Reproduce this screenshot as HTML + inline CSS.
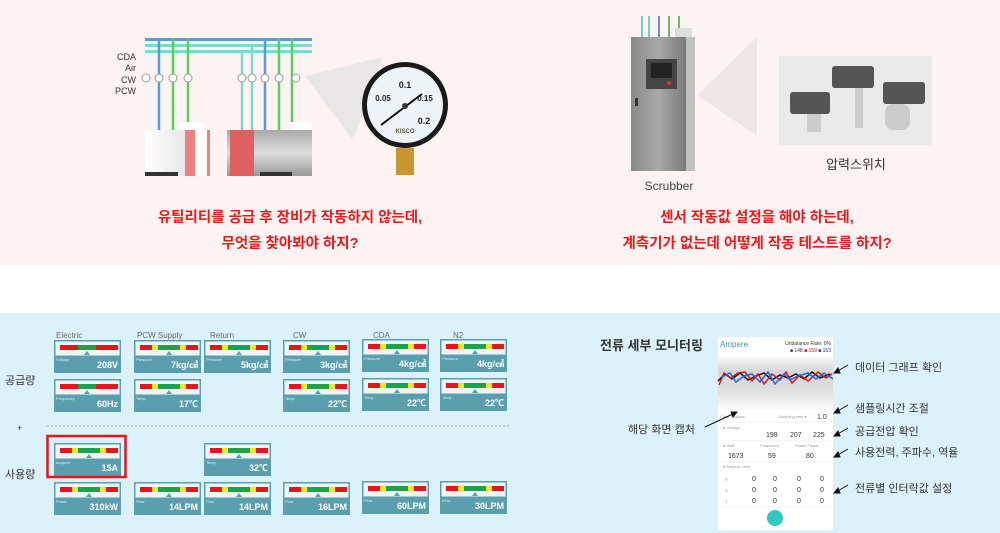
<!DOCTYPE html>
<html><head><meta charset="utf-8"><style>
html,body{margin:0;padding:0;width:1000px;height:533px;overflow:hidden;background:#fff}
svg{display:block}
text{font-family:"Liberation Sans","Noto Sans CJK KR",sans-serif}
</style></head><body>
<svg width="1000" height="533" viewBox="0 0 1000 533" xmlns="http://www.w3.org/2000/svg">
<defs>
<linearGradient id="gph" x1="0" y1="0" x2="0" y2="1"><stop offset="0" stop-color="#fff"/><stop offset="0.3" stop-color="#d6d6d6"/><stop offset="0.6" stop-color="#dcdcdc"/><stop offset="1" stop-color="#fff"/></linearGradient>
<linearGradient id="cab" x1="0" y1="0" x2="1" y2="0"><stop offset="0" stop-color="#8a8a8a"/><stop offset="0.5" stop-color="#a8a8a8"/><stop offset="1" stop-color="#7a7a7a"/></linearGradient>
<linearGradient id="mach" x1="0" y1="0" x2="1" y2="0"><stop offset="0" stop-color="#fff"/><stop offset="1" stop-color="#d8d8d8"/></linearGradient>
<linearGradient id="mach2" x1="0" y1="0" x2="0" y2="1"><stop offset="0" stop-color="#aaa"/><stop offset="0.5" stop-color="#ddd"/><stop offset="1" stop-color="#999"/></linearGradient>
<g id="card">
<rect x="0" y="0" width="67" height="33" fill="#5b9fae"/>
<rect x="1.5" y="1.5" width="64" height="14" fill="#eef5f7"/>
<rect x="6" y="5" width="58" height="5" fill="#e8141a"/>
<rect x="18" y="5" width="34" height="5" fill="#f1ec1c"/>
<rect x="24" y="5" width="22" height="5" fill="#1aa34a"/>
<polygon points="35,11 32,15 38,15" fill="#5b9fae"/>
</g>
<g id="cardE">
<rect x="0" y="0" width="67" height="33" fill="#5b9fae"/>
<rect x="1.5" y="1.5" width="64" height="14" fill="#eef5f7"/>
<rect x="6" y="5" width="58" height="5" fill="#e8141a"/>
<rect x="24" y="5" width="18" height="5" fill="#1aa34a"/>
<polygon points="33,11 30,15 36,15" fill="#5b9fae"/>
</g>
</defs>
<!-- top pink -->
<rect x="0" y="0" width="1000" height="265" fill="#fdf3f3"/>
<!-- bottom blue -->
<rect x="0" y="313" width="1000" height="220" fill="#dcf2fb"/>

<!-- left utility picture -->
<text x="136" y="60" font-size="9" text-anchor="end" fill="#333">CDA</text>
<text x="136" y="71" font-size="9" text-anchor="end" fill="#333">Air</text>
<text x="136" y="83" font-size="9" text-anchor="end" fill="#333">CW</text>
<text x="136" y="94" font-size="9" text-anchor="end" fill="#333">PCW</text>
<rect x="145" y="38" width="167" height="3" fill="#5b9bd5"/>
<rect x="145" y="44" width="167" height="3" fill="#7fd8d0"/>
<rect x="145" y="50" width="167" height="3" fill="#7fd8d0"/>
<g stroke-width="2.5">
<line x1="159" y1="41" x2="159" y2="130" stroke="#5b9bd5"/>
<line x1="173" y1="38" x2="173" y2="130" stroke="#5ccc5c"/>
<line x1="188" y1="38" x2="188" y2="122" stroke="#5ccc5c"/>
<line x1="242" y1="53" x2="242" y2="130" stroke="#7fd8d0"/>
<line x1="252" y1="47" x2="252" y2="130" stroke="#7fd8d0"/>
<line x1="265" y1="41" x2="265" y2="130" stroke="#5b9bd5"/>
<line x1="279" y1="38" x2="279" y2="130" stroke="#5ccc5c"/>
<line x1="292" y1="38" x2="292" y2="122" stroke="#5ccc5c"/>
</g>
<g fill="#fff" stroke="#999" stroke-width="1">
<circle cx="146" cy="78" r="4"/><circle cx="159" cy="78" r="4"/><circle cx="173" cy="78" r="4"/><circle cx="188" cy="78" r="4"/>
<circle cx="242" cy="78" r="4"/><circle cx="252" cy="78" r="4"/><circle cx="265" cy="78" r="4"/><circle cx="279" cy="78" r="4"/><circle cx="296" cy="78" r="4"/>
</g>
<rect x="145" y="130" width="65" height="46" fill="url(#mach)"/>
<rect x="180" y="122" width="24" height="8" fill="#fff"/>
<rect x="185" y="130" width="10" height="46" fill="#f08080"/>
<rect x="195" y="130" width="12" height="46" fill="#fff"/>
<rect x="207" y="130" width="3" height="46" fill="#f08080"/>
<rect x="145" y="172" width="33" height="4" fill="#333"/>
<rect x="227" y="130" width="85" height="46" fill="url(#mach2)"/>
<rect x="230" y="130" width="24" height="46" fill="#e06060"/>
<rect x="292" y="122" width="20" height="8" fill="#fff"/>
<rect x="260" y="172" width="32" height="4" fill="#333"/>
<!-- cone -->
<polygon points="305,76 383,57 353,140" fill="#e8e6e6"/>
<!-- gauge -->
<rect x="396" y="148" width="18" height="27" fill="#c8962e"/>
<circle cx="405" cy="105" r="43" fill="#1a1a1a"/>
<circle cx="405" cy="105" r="38" fill="#eef3f8"/>
<text x="405" y="88" font-size="9" font-weight="bold" text-anchor="middle" fill="#222">0.1</text>
<text x="383" y="101" font-size="8" font-weight="bold" text-anchor="middle" fill="#222">0.05</text>
<text x="425" y="101" font-size="8" font-weight="bold" text-anchor="middle" fill="#222">0.15</text>
<text x="424" y="124" font-size="9" font-weight="bold" text-anchor="middle" fill="#222">0.2</text>
<text x="405" y="133" font-size="6" font-weight="bold" text-anchor="middle" fill="#553">KISCO</text>
<line x1="381" y1="125" x2="422" y2="94" stroke="#111" stroke-width="2"/>
<circle cx="405" cy="106" r="3" fill="#333"/>

<text x="290" y="222" font-size="14.5" font-weight="bold" text-anchor="middle" fill="#f01818">유틸리티를 공급 후 장비가 작동하지 않는데,</text>
<text x="290" y="248" font-size="14.5" font-weight="bold" text-anchor="middle" fill="#f01818">무엇을 찾아봐야 하지?</text>

<!-- scrubber -->
<g stroke-width="1.5">
<line x1="642" y1="16" x2="642" y2="37" stroke="#4cc0b0"/>
<line x1="649" y1="16" x2="649" y2="37" stroke="#4cc0b0"/>
<line x1="659" y1="16" x2="659" y2="37" stroke="#3a70c0"/>
<line x1="669" y1="16" x2="669" y2="37" stroke="#3aaa3a"/>
<line x1="679" y1="16" x2="679" y2="30" stroke="#3aaa3a"/>
</g>
<rect x="675" y="28" width="17" height="9" fill="#ddd"/>
<rect x="631" y="37" width="55" height="134" fill="url(#cab)"/>
<rect x="686" y="37" width="9" height="134" fill="#c0c0c0"/>
<rect x="646" y="59" width="31" height="30" fill="#444"/>
<rect x="651" y="63" width="21" height="15" fill="#222"/>
<circle cx="669" cy="83" r="2" fill="#d33"/>
<rect x="635" y="98" width="3" height="8" fill="#333"/>
<text x="669" y="190" font-size="12" text-anchor="middle" fill="#444">Scrubber</text>
<polygon points="697,95 757,37 757,136" fill="#ece6e6"/>
<rect x="779" y="56" width="153" height="89" fill="#eaeaea"/>
<g fill="#555"><rect x="790" y="92" width="40" height="22" rx="3"/><rect x="832" y="66" width="42" height="22" rx="3"/><rect x="883" y="82" width="42" height="22" rx="3"/></g>
<g fill="#ccc"><rect x="807" y="114" width="14" height="18"/><rect x="855" y="88" width="8" height="40"/><rect x="885" y="104" width="25" height="26" rx="8"/></g>
<text x="856" y="169" font-size="13" text-anchor="middle" fill="#333">압력스위치</text>

<text x="757" y="222" font-size="14.5" font-weight="bold" text-anchor="middle" fill="#f01818">센서 작동값 설정을 해야 하는데,</text>
<text x="757" y="248" font-size="14.5" font-weight="bold" text-anchor="middle" fill="#f01818">계측기가 없는데 어떻게 작동 테스트를 하지?</text>

<!-- gauges panel -->
<g font-size="8" fill="#666">
<text x="56" y="338">Electric</text><text x="137" y="338">PCW Supply</text><text x="210" y="338">Return</text>
<text x="293" y="338">CW</text><text x="373" y="338">CDA</text><text x="453" y="338">N2</text>
</g>
<text x="5" y="384" font-size="11" fill="#333">공급량</text>
<text x="17" y="431" font-size="9" fill="#333">+</text>
<text x="5" y="478" font-size="11" fill="#333">사용량</text>
<line x1="47" y1="426" x2="510" y2="426" stroke="#999" stroke-dasharray="2,2" stroke-width="0.8"/>

<g font-family="Liberation Sans,sans-serif">
<use href="#cardE" x="54" y="340"/><use href="#card" x="134" y="340"/><use href="#card" x="204" y="340"/>
<use href="#card" x="283" y="340"/><use href="#card" x="362" y="339"/><use href="#card" x="440" y="339"/>
<use href="#cardE" x="54" y="379"/><use href="#card" x="134" y="379"/>
<use href="#card" x="283" y="379"/><use href="#card" x="362" y="378"/><use href="#card" x="440" y="378"/>
<use href="#card" x="54" y="443"/><use href="#card" x="204" y="443"/>
<use href="#card" x="54" y="482"/><use href="#card" x="134" y="482"/><use href="#card" x="204" y="482"/>
<use href="#card" x="283" y="482"/><use href="#card" x="362" y="481"/><use href="#card" x="440" y="481"/>
</g>
<rect x="47.5" y="436" width="78" height="41" fill="none" stroke="#e8141a" stroke-width="2.5"/>
<g font-size="4" fill="#dfeff3">
<text x="56" y="361">Voltage</text><text x="136" y="361">Pressure</text><text x="206" y="361">Pressure</text><text x="285" y="361">Pressure</text><text x="364" y="360">Pressure</text><text x="442" y="360">Pressure</text>
<text x="56" y="400">Frequency</text><text x="136" y="400">Temp</text><text x="285" y="400">Temp</text><text x="364" y="399">Temp</text><text x="442" y="399">Temp</text>
<text x="56" y="464">Ampere</text><text x="206" y="464">Temp</text>
<text x="56" y="503">Power</text><text x="136" y="503">Flow</text><text x="206" y="503">Flow</text><text x="285" y="503">Flow</text><text x="364" y="502">Flow</text><text x="442" y="502">Flow</text>
</g>
<g font-size="9" font-weight="bold" fill="#fff" text-anchor="end">
<text x="118" y="368">208V</text><text x="198" y="368">7kg/㎠</text><text x="268" y="368">5kg/㎠</text><text x="347" y="368">3kg/㎠</text><text x="426" y="367">4kg/㎠</text><text x="504" y="367">4kg/㎠</text>
<text x="118" y="407">60Hz</text><text x="198" y="407">17℃</text><text x="347" y="407">22℃</text><text x="426" y="406">22℃</text><text x="504" y="406">22℃</text>
<text x="118" y="471">15A</text><text x="268" y="471">32℃</text>
<text x="118" y="510">310kW</text><text x="198" y="510">14LPM</text><text x="268" y="510">14LPM</text><text x="347" y="510">16LPM</text><text x="426" y="509">60LPM</text><text x="504" y="509">30LPM</text>
</g>

<!-- right monitoring -->
<text x="600" y="350" font-size="13" font-weight="bold" fill="#333">전류 세부 모니터링</text>
<rect x="718" y="337" width="115" height="193" fill="#fff"/>
<rect x="718" y="354" width="115" height="58" fill="url(#gph)"/>
<text x="720" y="347" font-size="8" fill="#3aa0a8">Ampere</text>
<text x="831" y="345" font-size="5" fill="#333" text-anchor="end">Unbalance Rate:   0%</text>
<text x="831" y="352" font-size="5" text-anchor="end"><tspan fill="#333">■ 148  </tspan><tspan fill="#e00">■ 159  </tspan><tspan fill="#22c">■ 153</tspan></text>
<polyline points="718,381 725,374 732,379 740,373 748,380 756,376 764,373 772,380 780,375 788,378 796,374 804,379 812,372 820,378 830,374" fill="none" stroke="#111" stroke-width="1.5"/>
<polyline points="719,385 724,373 731,378 738,373 745,372 752,381 758,374 764,384 772,374 780,380 786,372 792,383 800,375 808,381 818,372 826,378 832,374" fill="none" stroke="#e81010" stroke-width="1.5"/>
<polyline points="722,377 730,373 736,382 744,376 752,374 760,382 768,372 775,384 784,374 790,380 798,376 808,373 816,379 824,373 833,379" fill="none" stroke="#1a6ae8" stroke-width="1.5"/>
<g font-size="4" fill="#999">
<text x="720" y="418">Clear  Capture</text><text x="778" y="418">Sampling time ▾</text>
<text x="723" y="429">● Voltage</text><text x="723" y="447">● Watt</text><text x="760" y="447">Frequency</text><text x="795" y="447">Power Factor</text>
<text x="723" y="468">● Ampere Limit</text>
<text x="725" y="481">R</text><text x="725" y="492">S</text><text x="725" y="503">T</text>
</g>
<g font-size="7" fill="#333">
<text x="817" y="419">1.0</text>
<text x="766" y="437">198</text><text x="790" y="437">207</text><text x="813" y="437">225</text>
<text x="728" y="458">1673</text><text x="768" y="458">59</text><text x="806" y="458">80</text>
<text x="752" y="481">0</text><text x="773" y="481">0</text><text x="797" y="481">0</text><text x="820" y="481">0</text>
<text x="752" y="492">0</text><text x="773" y="492">0</text><text x="797" y="492">0</text><text x="820" y="492">0</text>
<text x="752" y="503">0</text><text x="773" y="503">0</text><text x="797" y="503">0</text><text x="820" y="503">0</text>
</g>
<g stroke="#eee" stroke-width="0.7"><line x1="720" y1="422" x2="831" y2="422"/><line x1="720" y1="441" x2="831" y2="441"/><line x1="720" y1="462" x2="831" y2="462"/><line x1="720" y1="507" x2="831" y2="507"/></g>
<circle cx="775" cy="518" r="8" fill="#2ec9c4"/>

<g stroke="#111" stroke-width="1" fill="#111">
<line x1="848" y1="365" x2="836" y2="372"/><polygon points="834,373 838,368 840,373"/>
<line x1="848" y1="405" x2="836" y2="412"/><polygon points="834,413 838,408 840,413"/>
<line x1="848" y1="428" x2="836" y2="435"/><polygon points="834,436 838,431 840,436"/>
<line x1="848" y1="449" x2="836" y2="456"/><polygon points="834,457 838,452 840,457"/>
<line x1="848" y1="485" x2="836" y2="492"/><polygon points="834,493 838,488 840,493"/>
<line x1="705" y1="427" x2="735" y2="413"/><polygon points="737,412 731,412 733,417"/>
</g>
<g font-size="11" fill="#333">
<text x="855" y="371">데이터 그래프 확인</text>
<text x="855" y="412">샘플링시간 조절</text>
<text x="855" y="435">공급전압 확인</text>
<text x="855" y="456">사용전력, 주파수, 역율</text>
<text x="855" y="492">전류별 인터락값 설정</text>
<text x="628" y="433">해당 화면 캡처</text>
</g>
</svg>
</body></html>
